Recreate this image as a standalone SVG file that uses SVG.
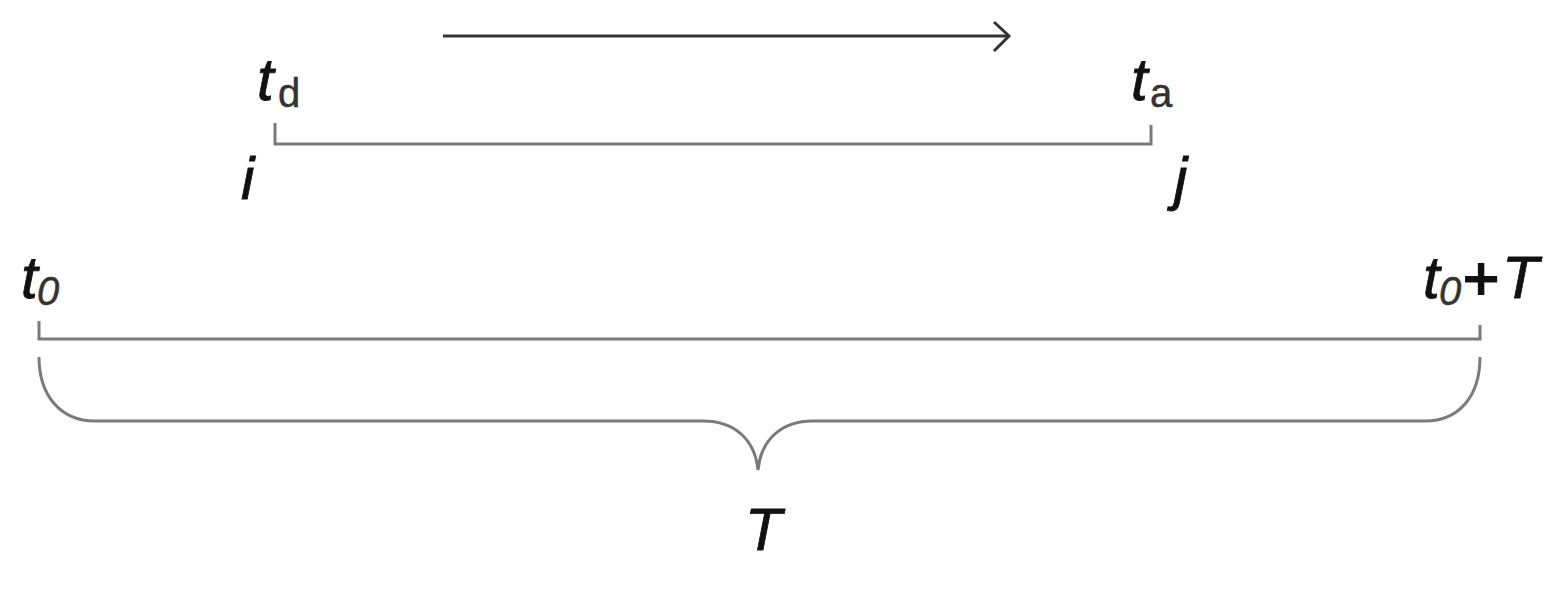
<svg xmlns="http://www.w3.org/2000/svg" width="1563" height="589" viewBox="0 0 1563 589">
<style>
.lbl{font-family:"Liberation Sans",Arial,sans-serif;font-size:60px;fill:#111;font-style:italic;stroke:#111;stroke-width:0.8}
.sub{font-size:40px;fill:#333;stroke:#333;stroke-width:0.5}
.up{font-style:normal}
.plus{font-style:normal;font-size:62px;stroke-width:2}
.ln{fill:none;stroke:#7a7a7a;stroke-width:3}
.ar{fill:none;stroke:#333;stroke-width:3}
</style>
<rect width="1563" height="589" fill="#fff"/>
<g id="connectors">
<line class="ar" x1="443" y1="36" x2="1009" y2="36"/>
<polyline class="ar" points="994,22 1009,36 994,51"/>
</g>
<g id="trip">
<polyline class="ln" points="275,123 275,144 1151,144 1151,125"/>
</g>
<g id="horizon">
<polyline class="ln" points="39,321 39,339 1480,339 1480,325"/>
<path class="ln" d="M39,357 C39,395 60,421 95,421 L703,421 C735,421 755,440 758,470 C761,440 781,421 813,421 L1425,421 C1460,421 1480,395 1480,357"/>
</g>
<g id="labels">
<text class="lbl" x="257" y="100">t<tspan class="sub up" x="278" y="107">d</tspan></text>
<text class="lbl" x="1131" y="100">t<tspan class="sub up" x="1150" y="107">a</tspan></text>
<text class="lbl" x="241" y="199">i</text>
<text class="lbl" x="1174" y="199">j</text>
<text class="lbl" x="21" y="298">t<tspan class="sub" x="37" y="305">0</tspan></text>
<text class="lbl" x="1423" y="298">t<tspan class="sub" x="1439" y="305">0</tspan><tspan x="1463" y="299" class="plus">+</tspan><tspan x="1502" y="298">T</tspan></text>
<text class="lbl" x="745" y="550">T</text>
</g>
</svg>
